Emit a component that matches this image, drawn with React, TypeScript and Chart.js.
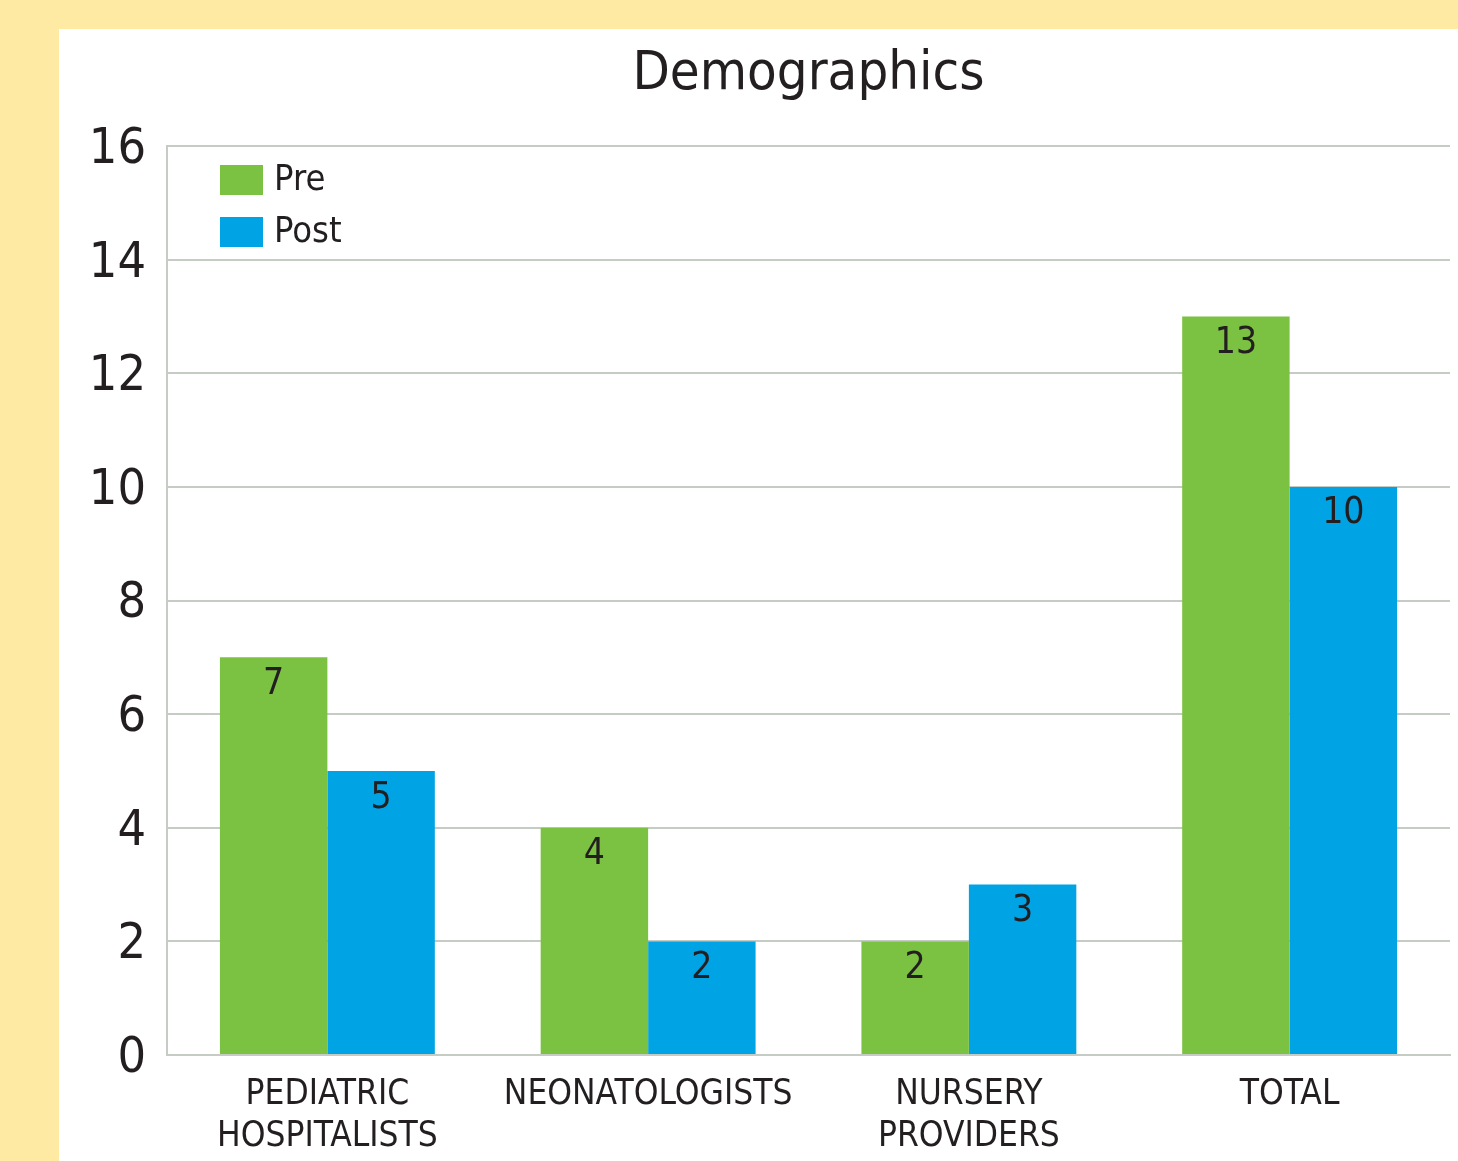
import React, { useEffect, useRef } from "react";
import { Chart, registerables } from "chart.js";

Chart.register(...registerables);

const categories: string[][] = [
  ["PEDIATRIC", "HOSPITALISTS"],
  ["NEONATOLOGISTS"],
  ["NURSERY", "PROVIDERS"],
  ["TOTAL"],
];
const preValues = [7, 4, 2, 13];
const postValues = [5, 2, 3, 10];
const seriesNames = ["Pre", "Post"];
const yTicks = [0, 2, 4, 6, 8, 10, 12, 14, 16];
const titleText = "Demographics";

const FONT = "'Liberation Sans Narrow', 'DejaVu Sans Condensed', 'Liberation Sans', sans-serif";
const GREEN = "#7cc242";
const BLUE = "#00a3e4";
const TEXT = "#231f20";
const GRID = "#c5ccc4";

export default function App() {
  const ref = useRef<HTMLCanvasElement | null>(null);

  useEffect(() => {
    document.body.style.margin = "0";
    const canvas = ref.current;
    if (!canvas) return;

    const overlay = {
      id: "overlay",
      afterDraw(chart: any) {
        const ctx = chart.ctx;
        const area = chart.chartArea;
        ctx.save();
        // Title centered over plot area
        ctx.fillStyle = TEXT;
        ctx.font = `54px ${FONT}`;
        ctx.textAlign = "center";
        ctx.textBaseline = "middle";
        ctx.fillText(titleText, (area.left + area.right) / 2, 75);

        // Legend inside plot
        chart.data.datasets.forEach((ds: any, i: number) => {
          const y = 165 + i * 52;
          ctx.fillStyle = ds.backgroundColor;
          ctx.fillRect(220, y, 43, 30);
          ctx.fillStyle = TEXT;
          ctx.font = `36px ${FONT}`;
          ctx.textAlign = "left";
          ctx.textBaseline = "middle";
          ctx.fillText(ds.label, 274, y + 16);
        });

        // Value labels
        ctx.font = `37px ${FONT}`;
        ctx.textAlign = "center";
        ctx.textBaseline = "middle";
        ctx.fillStyle = TEXT;
        chart.data.datasets.forEach((ds: any, i: number) => {
          const meta = chart.getDatasetMeta(i);
          meta.data.forEach((bar: any, j: number) => {
            ctx.fillText(String(ds.data[j]), bar.x, bar.y + 27);
          });
        });
        ctx.restore();
      },
    };

    const chart = new Chart(canvas, {
      type: "bar",
      data: {
        labels: categories,
        datasets: [
          {
            label: seriesNames[0],
            data: preValues,
            backgroundColor: GREEN,
            categoryPercentage: 0.67,
            barPercentage: 1.0,
          },
          {
            label: seriesNames[1],
            data: postValues,
            backgroundColor: BLUE,
            categoryPercentage: 0.67,
            barPercentage: 1.0,
          },
        ],
      },
      options: {
        animation: false,
        responsive: false,
        maintainAspectRatio: false,
        layout: { padding: { top: 146, right: 8, left: 0, bottom: 0 } },
        plugins: {
          legend: { display: false },
          title: { display: false },
          tooltip: { enabled: false },
        },
        scales: {
          x: {
            grid: { display: false, drawTicks: false },
            border: { display: true, color: GRID, width: 2 },
            ticks: {
              color: TEXT,
              font: { family: FONT, size: 35, lineHeight: 1.2 },
              padding: 19,
              maxRotation: 0,
              autoSkip: false,
            },
            afterFit(scale: any) {
              scale.height = 106;
            },
          },
          y: {
            min: 0,
            max: 16,
            afterBuildTicks(scale: any) {
              scale.ticks = yTicks.map((v) => ({ value: v }));
            },
            grid: { color: GRID, lineWidth: 2, drawTicks: false },
            border: { display: true, color: GRID, width: 2 },
            ticks: {
              color: TEXT,
              font: { family: FONT, size: 50 },
              padding: 21,
              labelOffset: 4,
            },
            afterFit(scale: any) {
              scale.width = 167;
            },
          },
        },
      },
      plugins: [overlay],
    });

    return () => chart.destroy();
  }, []);

  return (
    <div style={{ position: "relative", width: 1458, height: 1161, background: "#feeaa3", overflow: "hidden" }}>
      <div style={{ position: "absolute", left: 59, top: 29, right: 0, bottom: 0, background: "#ffffff" }} />
      <canvas ref={ref} width={1458} height={1161} style={{ position: "absolute", left: 0, top: 0, width: 1458, height: 1161 }} />
    </div>
  );
}
